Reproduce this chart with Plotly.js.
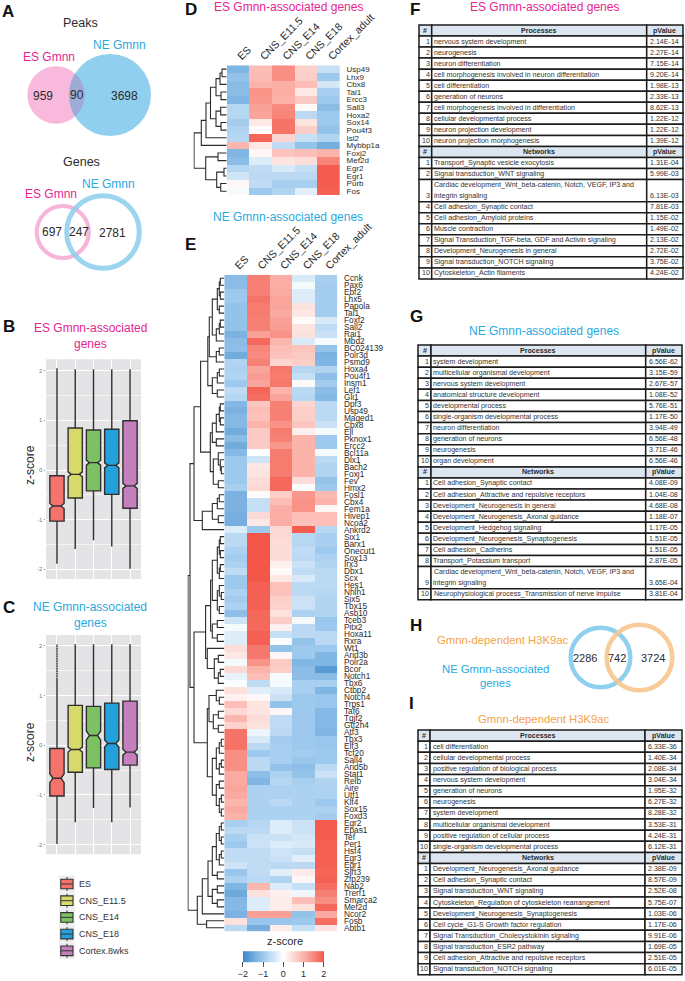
<!DOCTYPE html>
<html><head><meta charset="utf-8">
<script src="https://cdn.plot.ly/plotly-3.0.1.min.js"></script>
<style>html,body{margin:0;padding:0;background:#fff}#c{width:685px;height:981px}</style>
</head><body><div id="c"></div>
<script>
// ---------- data ----------
const stages = ['ES','CNS_E11.5','CNS_E14','CNS_E18','Cortex_adult'];
const boxStages = ['ES','CNS_E11.5','CNS_E14','CNS_E18','Cortex.8wks'];
const boxColors = ['#f4736b','#d7d96a','#7cc262','#22a1dc','#c47fbc'];

const esBoxHigh  = [2.05,2.03,2.03,2.03,2.03];
const esBoxQ3    = [-0.114,0.846,0.805,0.82,0.993];
const esBoxMed   = [-0.725,-0.087,0.148,0.094,-0.32];
const esBoxQ1    = [-1.03,-0.564,-0.42,-0.49,-0.77];
const esBoxLow   = [-1.89,-1.59,-1.416,-1.54,-1.99];
const esBoxNotch = [0.05,0.05,0.05,0.05,0.05];

const neBoxHigh  = [2.03,2.03,2.03,2.03,2.03];
const neBoxQ3    = [-0.067,0.8,0.78,0.846,0.886];
const neBoxMed   = [-0.664,-0.087,0.195,0.034,-0.14];
const neBoxQ1    = [-1.02,-0.544,-0.456,-0.49,-0.4];
const neBoxLow   = [-1.987,-1.55,-1.26,-1.55,-1.25];
const neBoxNotch = [0.09,0.05,0.09,0.07,0.06];
const neEsDottedWhisker = [1.35,2.03];

const esGenes = ['Usp49','Lhx9','Cbx8','Tal1','Ercc3','Sall3','Hoxa2','Sox14','Pou4f3','Isl2','Mybbp1a','Foxj2','Mef2d','Egr2','Egr1','Purb','Fos'];
const esZ = [
[-1.3,.85,1.4,.6,-.6],[-1.1,.9,1.4,.65,-1.0],[-1.2,1.0,1.05,.85,-.45],[-1.2,1.35,1.05,.3,-.9],[-1.3,1.3,1.0,.7,-1.0],
[-.75,1.2,1.45,.05,-1.2],[-.75,1.15,1.5,-.7,-1.0],[-.95,.3,1.7,.35,-1.0],[-.8,.05,1.7,.65,-1.1],[-.75,1.85,.55,-.6,-.8],
[.95,.3,-.65,-1.1,-1.4],[-1.3,.1,.8,.85,1.0],[-1.2,-.35,.35,.45,1.5],[-.75,-.65,-.4,-.6,1.95],[-.5,-.7,-.7,-.7,1.95],
[.1,-.65,-.9,-.9,1.95],[-.1,-1.0,-.8,-.3,1.9]];

const neGenes = ['Ccnk','Pax6','Ebf2','Lhx5','Papola','Tal1','Foxf2','Sall2','Rai1','Mbd2','BC024139','Polr3d','Psmd9','Hoxa4','Pou4f1','Insm1','Lef1','Gli1','Dpf3','Usp49','Maged1','Cbx8','Ell','Pknox1','Ercc2','Bcl11a','Dlx1','Bach2','Foxj1','Fev','Hmx2','Fosl1','Cbx4','Fem1a','Hivep1','Ncoa2','Ankrd2','Six1','Barx1','Onecut1','Sox13','Irx3','Dbx1','Scx','Hes1','Nhlh1','Six5','Tbx15','Asb10','Tceb3','Pitx2','Hoxa11','Rxra','Wt1','Arid3b','Polr2a','Bcor','Notch1','Tbx6','Ctbp2','Notch4','Trps1','Taf6','Tgif2','Gtf2h4','Atf3','Tbx3','Elf3','Tcf20','Sall4','Arid5b','Stat1','Relb','Aire','Utf1','Klf4','Sox15','Foxd3','Egr2','Epas1','Tef','Per1','Hsf4','Egr3','Egr1','Sirt3','Zfp239','Nab2','Trerf1','Smarca2','Mef2d','Ncor2','Fosb','Abtb1'];
const neZ = [
[-1.2,1.55,1.05,-.4,-.9],[-1.2,1.55,1.05,-.1,-.95],[-1.0,1.55,1.1,-.35,-.95],[-1.0,1.7,1.15,-.35,-.95],[-1.1,1.6,1.15,.4,-.95],
[-1.1,1.6,1.1,.3,-.95],[-1.1,1.55,1.2,.05,-.4],[-1.1,1.55,1.25,.35,-.65],[-1.35,1.2,1.35,.4,-.55],[-1.2,1.8,.95,-.4,-.1],
[-1.15,1.5,.85,.8,-1.1],[-1.45,1.45,.8,.7,-1.35],[-.8,1.55,.55,.65,-1.3],[-.85,1.15,1.65,-.75,-.8],[-.8,1.25,1.6,-.6,-1.15],
[-1.0,1.15,1.65,.05,-.95],[-.65,1.85,1.0,-.7,-1.2],[-.75,1.75,1.15,-.75,-1.25],[-1.25,.75,1.55,.55,-.7],[-1.35,.85,1.55,.65,-.7],
[-1.25,.8,1.55,.65,-.7],[-1.25,1.0,1.35,.75,-.55],[-1.45,.7,1.6,.2,-.1],[-1.2,.7,1.55,1.0,-1.0],[-1.45,.7,1.3,1.0,-1.0],
[-1.25,0,1.6,1.0,-.1],[-1.0,-.5,1.6,1.0,-.7],[-1.0,.3,1.6,1.0,-.8],[-1.0,.35,1.6,1.0,-.8],[-1.0,.45,1.8,.45,-1.1],
[-.9,.5,1.8,-.05,-1.0],[-1.35,.05,.65,1.3,.9],[-1.35,-.6,.85,1.35,1.0],[-1.35,-.6,1.05,1.35,.1],[-1.4,.5,1.05,.85,.85],
[-1.4,.3,1.05,.8,.85],[-.35,-1.0,.5,1.95,-.75],[-.7,2,.5,-.75,-.9],[-.7,2,.45,-.75,-.9],[-.85,2,.45,-.65,-1.0],
[-.95,2,.45,-.7,-.85],[-.85,2,.2,-.55,-.8],[-.65,2,.05,-.65,-.7],[-1.0,2,.3,-.4,-.7],[-1.0,1.9,.8,-.7,-.7],
[-.85,1.9,.8,-.7,-.75],[-.95,1.9,.65,-.55,-.8],[-.85,1.9,.6,-.55,-.8],[-1.15,1.8,.4,-.85,-.8],[-.5,1.8,.65,-.1,-1.05],
[-.1,1.8,.2,-.7,-1.0],[-.35,1.9,-.6,-.7,-.7],[-.35,1.9,-.05,-1.1,-.7],[.45,1.65,-1.1,-1.0,-1.0],[.3,1.65,.1,-1.0,-1.3],
[-.1,1.35,.7,-1.3,-1.3],[.5,1.0,.65,-1.2,-1.7],[-.25,.85,-.1,-1.2,-1.2],[-.05,-.65,-.1,-.9,-.9],[.4,-.3,-.4,-.9,-1.3],
[.2,.1,-.55,-1.0,-1.05],[.85,.35,-1.1,-1.0,-1.05],[.5,.35,.1,-1.0,-1.25],[.95,.45,-.65,-1.0,-1.25],[.6,.4,-.65,-1.0,-1.25],
[1.7,-.2,-.7,-1.0,-1.3],[1.7,-.4,-.95,-1,-1.05],[1.7,-.7,-.9,-1,-1.05],[1.4,-1.0,-.9,-.95,-1.0],[1.4,-.7,-.9,-1.05,-1.0],
[1.4,-.7,-1.1,-1.15,-.7],[1.1,-1.15,-.85,-1.1,-.55],[1.1,-1.3,-.75,-.9,-.8],[1.15,-.85,-.85,-.85,-.85],[1.1,-.85,-.85,-.85,-.85],
[.95,-.85,-.7,-.85,-1.0],[1.1,-.85,-.85,-.85,-.85],[1.0,-.85,-.85,-.85,-.95],[-.9,-.75,-.35,-.55,1.95],[-.7,-.7,-.35,-.55,1.95],
[-.9,-.55,-.55,-.45,1.95],[-1.0,-.55,-.35,-.4,1.9],[-.65,-.65,-.5,-.6,1.9],[-.65,-.65,-.55,-.3,1.9],[-.5,-.65,-.7,-.7,1.9],
[-1.05,-.65,-.3,.25,1.85],[-.85,-.7,-.8,.1,1.9],[-1.3,.95,-.35,-.6,1.75],[-1.5,.4,.2,-.15,1.55],[-1.25,-.35,.25,.85,1.4],
[-1.25,-.35,.25,.4,1.8],[-1.35,1.2,1.2,-1.1,1.1],[.4,-1.05,-1.05,-1.0,1.75],[-.7,-1.4,.25,-.6,.35]];

// dendrograms: [merge distance, child, child]; a bare number is a row of the heat map
const esTree = [32.7,
  [25.4,[20.7,[16.2,[10.7,[6.7,[4.7,0,1],2],[5.7,3,4]],[10.7,[6,5,6],[5.7,7,8]]],9],10],
  [21,[8.7,11,12],[10,[2.7,13,14],[6,15,16]]]];
const neTree = [36.3,
 [34.3,
  [30.3,
   [23.7,
    [16.5,
     [15,[12,[7,[5,[4,0,1],[4,2,3]],[5,4,5]],[8,[5,[4,6,7],8],9]],[8,[5,10,11],12]],
     [12,[7,[5,13,14],15],[7,16,17]]],
    [14,[12,[8,[5,[4,18,19],[4,20,21]],22],[8,23,24]],[11,[6,25,[4,26,[3,27,28]]],[6,29,30]]]],
   [22,[12,[7,[5,31,32],33],[6,34,35]],36]],
  [30.3,
   [18.7,
    [13.7,[12,[7,[5,[4,37,38],[4,39,40]],[5,[4,41,42],43]],[7,[5,44,[3,45,46]],[5,47,48]]],[12,[7,49,50],[7,51,52]]],
    [17,53,[10,[6,54,55],[6,[4,56,57],58]]]],
   [17,
    [15.3,[8,59,[5,60,61]],[11,[6,62,63],[6,64,65]]],
    [12,[8,[5,[3,66,67],68],[5,[3,69,70],71]],[8,[5,72,73],[5,[3,74,75],[3,76,77]]]]]]],
 [27,
  [22,[16.3,[12,[8,[5,[3,78,79],[3,80,81]],[5,[3,82,83],84]],[7,85,86]],[12,[7,87,88],[7,89,90]]],91],
  [17.7,92,93]]];

const esProcesses = ['nervous system development','neurogenesis','neuron differentiation','cell morphogenesis involved in neuron differentiation','cell differentiation','generation of neurons','cell morphogenesis involved in differentiation','cellular developmental process','neuron projection development','neuron projection morphogenesis'];
const esProcessP = ['2.14E-14','2.27E-14','7.15E-14','9.20E-14','1.98E-13','2.33E-13','8.62E-13','1.22E-12','1.22E-12','1.39E-12'];
const esNetworks = ['Transport_Synaptic vesicle exocytosis','Signal transduction_WNT signaling','Cardiac development_Wnt_beta-catenin, Notch, VEGF, IP3 and\nintegrin signaling','Cell adhesion_Synaptic contact','Cell adhesion_Amyloid proteins','Muscle contraction','Signal Transduction_TGF-beta, GDF and Activin signaling','Development_Neurogenesis in general','Signal transduction_NOTCH signaling','Cytoskeleton_Actin filaments'];
const esNetworkP = ['1.31E-04','5.99E-03','6.13E-03','7.81E-03','1.15E-02','1.49E-02','2.13E-02','2.72E-02','3.75E-02','4.24E-02'];

const neProcesses = ['system development','multicellular organismal development','nervous system development','anatomical structure development','developmental process','single-organism developmental process','neuron differentiation','generation of neurons','neurogenesis','organ development'];
const neProcessP = ['6.56E-62','3.15E-59','2.67E-57','1.08E-52','5.76E-51','1.17E-50','3.94E-49','6.56E-48','3.71E-46','6.56E-46'];
const neNetworks = ['Cell adhesion_Synaptic contact','Cell adhesion_Attractive and repulsive receptors','Development_Neurogenesis in general','Development_Neurogenesis_Axonal guidance','Development_Hedgehog signaling','Development_Neurogenesis_Synaptogenesis','Cell adhesion_Cadherins','Transport_Potassium transport','Cardiac development_Wnt_beta-catenin, Notch, VEGF, IP3 and\nintegrin signaling','Neurophysiological process_Transmission of nerve impulse'];
const neNetworkP = ['4.08E-09','1.04E-08','4.68E-08','1.18E-07','1.17E-05','1.51E-05','1.51E-05','2.87E-05','3.65E-04','3.81E-04'];

const h3Processes = ['cell differentiation','cellular developmental process','positive regulation of biological process','nervous system development','generation of neurons','neurogenesis','system development','multicellular organismal development','positive regulation of cellular process','single-organism developmental process'];
const h3ProcessP = ['6.33E-36','1.40E-34','2.08E-34','3.04E-34','1.95E-32','6.27E-32','8.28E-32','3.53E-31','4.24E-31','6.12E-31'];
const h3Networks = ['Development_Neurogenesis_Axonal guidance','Cell adhesion_Synaptic contact','Signal transduction_WNT signaling','Cytoskeleton_Regulation of cytoskeleton rearrangement','Development_Neurogenesis_Synaptogenesis','Cell cycle_G1-S Growth factor regulation','Signal Transduction_Cholecystokinin signaling','Signal transduction_ESR2 pathway','Cell adhesion_Attractive and repulsive receptors','Signal transduction_NOTCH signaling'];
const h3NetworkP = ['2.38E-09','8.57E-09','2.52E-08','5.75E-07','1.03E-06','1.17E-06','9.91E-06','1.69E-05','2.51E-05','6.01E-05'];

const peakCounts = ['959','90','3698'];
const geneCounts = ['697','247','2781'];
const h3Counts = ['2286','742','3724'];

// ---------- helpers ----------
const W=685,H=981;
const FONT='"Liberation Sans", Arial, sans-serif';
const PINK='#e6248f',BLUE='#2aa9e0',ORANGE='#f5a24a',DARK='#2b2b2b';
const px=x=>x/W, py=y=>1-y/H;
const dx=(a,b)=>[a/W,b/W], dy=(t,b)=>[1-b/H,1-t/H];
const annotations=[],shapes=[],traces=[];
function note(text,x,y,o={}){
  annotations.push({text,x:px(x),y:py(y),xref:'paper',yref:'paper',showarrow:false,
    xanchor:o.anchor||'center',yanchor:'middle',borderpad:0,
    font:{family:FONT,size:o.size||12,color:o.color||DARK},textangle:o.angle||0});
}
function rect(x0,y0,x1,y1,fill,lineColor,lineW){
  shapes.push({type:'rect',xref:'paper',yref:'paper',x0:px(x0),x1:px(x1),y0:py(y0),y1:py(y1),
    fillcolor:fill,line:{color:lineColor||fill,width:lineW===undefined?0:lineW},layer:'above'});
}
function seg(x0,y0,x1,y1,color,w){
  shapes.push({type:'line',xref:'paper',yref:'paper',x0:px(x0),x1:px(x1),y0:py(y0),y1:py(y1),line:{color,width:w},layer:'above'});
}
function disc(cx,cy,r,fill){
  shapes.push({type:'circle',xref:'paper',yref:'paper',x0:px(cx-r),x1:px(cx+r),y0:py(cy-r),y1:py(cy+r),fillcolor:fill,line:{width:0},layer:'above'});
}
function ring(cx,cy,r,color,w,op){
  shapes.push({type:'circle',xref:'paper',yref:'paper',x0:px(cx-r),x1:px(cx+r),y0:py(cy-r),y1:py(cy+r),fillcolor:'rgba(0,0,0,0)',line:{color,width:w},opacity:op||1,layer:'above'});
}
function lens(c1,c2,fill){
  const d=c2[0]-c1[0],a=(d*d+c1[2]*c1[2]-c2[2]*c2[2])/(2*d),h=Math.sqrt(c1[2]*c1[2]-a*a);
  const t1=Math.atan2(h,a),t2=Math.atan2(h,a-d);
  let p=[];
  for(let i=0;i<=30;i++){const t=-t1+2*t1*i/30;p.push([c1[0]+c1[2]*Math.cos(t),c1[1]+c1[2]*Math.sin(t)]);}
  for(let i=0;i<=30;i++){const t=t2+(2*Math.PI-2*t2)*i/30;p.push([c2[0]+c2[2]*Math.cos(t),c2[1]+c2[2]*Math.sin(t)]);}
  const path=p.map((q,i)=>(i?'L':'M')+px(q[0]).toFixed(5)+','+py(q[1]).toFixed(5)).join(' ')+' Z';
  shapes.push({type:'path',xref:'paper',yref:'paper',path,fillcolor:fill,line:{width:0},layer:'above'});
}
function table(t){
  const [a,b,c,d]=t.cols; let y=t.top; const p=t.pitch, FS=7.1, LC='#1c1c1c', LW=1.5;
  const row=(cellsFill,h)=>{rect(a,y,b,y+h,cellsFill,LC,LW);rect(b,y,c,y+h,cellsFill,LC,LW);rect(c,y,d,y+h,cellsFill,LC,LW);};
  t.sections.forEach(s=>{
    row('#dce6f1',p);
    note('<b>#</b>',(a+b)/2,y+p/2,{size:FS});
    note('<b>'+s.head+'</b>',(b+c)/2,y+p/2,{size:FS});
    note('<b>pValue</b>',(c+d)/2,y+p/2,{size:FS});
    y+=p;
    s.names.forEach((n,i)=>{
      const lines=n.split('\n'),h=p*lines.length;
      row('#ffffff',h);
      lines.forEach((l,j)=>note(l,b+1.5,y+p*(j+.5),{anchor:'left',size:FS,color:'#333'}));
      note(String(i+1),b-1.2,y+h-p/2,{anchor:'right',size:FS,color:'#333'});
      note(s.p[i],c+2,y+h-p/2,{anchor:'left',size:FS,color:'#333'});
      y+=h;
    });
  });
}
function treeLines(tree){
  const xs=[],ys=[];
  (function walk(n){
    if(typeof n==='number')return{y:n,h:0};
    const A=walk(n[1]),B=walk(n[2]);
    xs.push(A.h,n[0],n[0],B.h,null);ys.push(A.y,A.y,B.y,B.y,null);
    return{y:(A.y+B.y)/2,h:n[0]};
  })(tree);
  return{xs,ys};
}
const scale=[[0,'#3b88c8'],[0.25,'#9ec9ee'],[0.5,'#ffffff'],[0.75,'#fbb3aa'],[1,'#f4574a']];
const axisHidden={showgrid:false,zeroline:false,showticklabels:false,ticks:'',showline:false};
const layout={width:W,height:H,margin:{l:0,r:0,t:0,b:0,autoexpand:false},paper_bgcolor:'#fff',plot_bgcolor:'rgba(0,0,0,0)',
  showlegend:false,boxmode:'overlay',font:{family:FONT,color:DARK},annotations,shapes};

// ---------- heat maps + dendrograms ----------
function heat(n,genes,z,box,labelSize,cb){
  const ids=genes.map((_,i)=>i);
  const tr={type:'heatmap',z,x:[0,1,2,3,4],y:ids,xaxis:'x'+(n==1?'':n),yaxis:'y'+(n==1?'':n),
    colorscale:scale,zmin:-2,zmax:2,showscale:!!cb,hoverinfo:'skip'};
  if(cb)tr.colorbar=cb;
  traces.push(tr);
  layout['xaxis'+(n==1?'':n)]={domain:dx(box.l,box.r),range:[-.5,4.5],side:'top',anchor:'y'+(n==1?'':n),
    tickmode:'array',tickvals:[0,1,2,3,4],ticktext:stages,tickangle:-45,ticks:'',
    tickfont:{family:FONT,size:10.6,color:DARK},showgrid:false,zeroline:false,showline:false};
  layout['yaxis'+(n==1?'':n)]={domain:dy(box.t,box.b),range:[genes.length-.5,-.5],side:'right',anchor:'x'+(n==1?'':n),
    tickmode:'array',tickvals:ids,ticktext:genes,ticks:'outside',ticklen:4,tickcolor:'rgba(0,0,0,0)',
    tickfont:{family:FONT,size:labelSize,color:DARK},showgrid:false,zeroline:false,showline:false};
}
function dendro(n,tree,genes,box,w){
  const L=treeLines(tree),maxH=tree[0]+.5;
  traces.push({type:'scatter',mode:'lines',x:L.xs,y:L.ys,xaxis:'x'+n,yaxis:'y'+n,line:{color:'#2b2b2b',width:w},hoverinfo:'skip',connectgaps:false});
  layout['xaxis'+n]=Object.assign({domain:dx(box.l-maxH,box.l),range:[maxH,0],anchor:'y'+n},axisHidden);
  layout['yaxis'+n]=Object.assign({domain:dy(box.t,box.b),range:[genes.length-.5,-.5],anchor:'x'+n},axisHidden);
}
const boxD={l:226.7,r:340,t:65.3,b:195}, boxE={l:224.3,r:337.3,t:274.7,b:931.3};
heat(1,esGenes,esZ,boxD,8);
heat(2,neGenes,neZ,boxE,8.3,{orientation:'h',x:283.3/W,xanchor:'center',y:py(980),yanchor:'bottom',yref:'paper',
  len:80.5,lenmode:'pixels',thickness:11,thicknessmode:'pixels',outlinewidth:0,xpad:0,ypad:0,
  tickmode:'array',tickvals:[-2,-1,0,1,2],ticktext:['\u22122','\u22121','0','1','2'],ticks:'outside',ticklen:5,tickcolor:'#222',tickwidth:.8,
  tickfont:{family:FONT,size:9,color:DARK},title:{text:'',side:'top'}});
dendro(3,esTree,esGenes,boxD,1.1);
dendro(4,neTree,neGenes,boxE,1.1);
note('z-score',285,940.7,{size:11});

// ---------- box plots ----------
function boxes(n,hi,q3,med,q1,lo,notch,panel,range){
  boxStages.forEach((s,i)=>traces.push({type:'box',x:[s],q1:[q1[i]],median:[med[i]],q3:[q3[i]],lowerfence:[lo[i]],upperfence:[hi[i]],
    notched:true,notchspan:[notch[i]],notchwidth:.22,boxpoints:false,whiskerwidth:0,width:.78,
    fillcolor:boxColors[i],line:{color:'#2f2f2f',width:1.4},xaxis:'x'+n,yaxis:'y'+n,hoverinfo:'skip'}));
  layout['xaxis'+n]={domain:dx(panel.l,panel.r),type:'category',categoryorder:'array',categoryarray:boxStages,range:[-.6,4.6],anchor:'y'+n,
    showticklabels:false,ticks:'',showgrid:true,gridcolor:'#fff',gridwidth:1,zeroline:false,showline:false};
  layout['yaxis'+n]={domain:dy(panel.t,panel.b),range,anchor:'x'+n,tickmode:'array',tickvals:[-2,-1,0,1,2],ticktext:['-2','-1','0','1','2'],
    ticks:'outside',ticklen:1.5,tickcolor:'#888',tickfont:{family:FONT,size:6,color:'#777'},showgrid:true,gridcolor:'#fff',gridwidth:1,zeroline:false,showline:false,
    minor:{dtick:.5,showgrid:true,gridcolor:'#fff',gridwidth:.6,ticks:''}};
  shapes.push({type:'rect',xref:'x'+n+' domain',yref:'y'+n+' domain',x0:0,x1:1,y0:0,y1:1,fillcolor:'#e4e4e6',line:{width:0},layer:'below'});
}
boxes(5,esBoxHigh,esBoxQ3,esBoxMed,esBoxQ1,esBoxLow,esBoxNotch,{l:46,r:141,t:359.3,b:579},[-2.195,2.23]);
boxes(6,neBoxHigh,neBoxQ3,neBoxMed,neBoxQ1,neBoxLow,neBoxNotch,{l:46,r:141,t:635,b:854.3},[-2.193,2.215]);
shapes.push({type:'line',xref:'x6',yref:'y6',x0:'ES',x1:'ES',y0:neEsDottedWhisker[0],y1:neEsDottedWhisker[1],line:{color:'#e4e4e6',width:1.1,dash:'1px,1.5px'},layer:'above'});
note('z-score',30,465,{size:12,angle:-90});
note('z-score',30,742,{size:12,angle:-90});

// legend
boxStages.forEach((s,i)=>{
  const y=884+16.7*i;
  rect(59,y-8.35,74.7,y+8.35,'#eeeeee');
  seg(67,y-7,67,y+7,'#333',1);
  rect(60.8,y-4.8,73,y+4.8,boxColors[i],'#333',1.1);
  seg(60.8,y,73,y,'#333',1);
  note(s,77.7,y,{anchor:'left',size:9,color:'#333'});
});

// ---------- venns ----------
const peakES=[56,95,28.7],peakNE=[110,95,41];
disc(peakES[0],peakES[1],peakES[2],'#f9b9dc');
disc(peakNE[0],peakNE[1],peakNE[2],'#90d0ee');
lens(peakES,peakNE,'#9dacd6');
note('Peaks',80,23,{size:12.5});
note('ES Gmnn',49,57,{size:12,color:PINK});
note('NE Gmnn',119.5,44.5,{size:12,color:BLUE});
note(peakCounts[0],42.5,95.5);note(peakCounts[1],76.5,95);note(peakCounts[2],124,95.5);

ring(62.8,232,26,'#f7b5da',4.2);
ring(103,232,36.3,'#8fd0ef',5,.88);
note('Genes',81,161.5,{size:12.5});
note('ES Gmnn',51,193.5,{size:12,color:PINK});
note('NE Gmnn',108.5,183.5,{size:12,color:BLUE});
note(geneCounts[0],51.5,232.5);note(geneCounts[1],79,232);note(geneCounts[2],113,233);

ring(600.5,657.5,29.8,'#8fd0ef',4.5);
ring(639.5,657.5,32.8,'#f8c68c',4.6,.88);
note(h3Counts[0],585,658,{size:11});note(h3Counts[1],617,658,{size:11});note(h3Counts[2],653,658,{size:11});
note('Gmnn-dependent H3K9ac',503,640,{size:11.3,color:ORANGE});
note('NE Gmnn-associated',495,669,{size:11.3,color:BLUE});
note('genes',495,683,{size:11.3,color:BLUE});

// ---------- titles / letters ----------
[['A',8,11],['D',191,10],['E',190,245],['B',9,326],['C',9,607],['F',415,10],['G',416,316],['H',416,625],['I',411,703]]
  .forEach(l=>note('<b>'+l[0]+'</b>',l[1],l[2],{size:17,color:'#111'}));
note('ES Gmnn-associated',90,328,{size:12,color:PINK});note('genes',90,344,{size:12,color:PINK});
note('NE Gmnn-associated',90,607,{size:12,color:BLUE});note('genes',90,623,{size:12,color:BLUE});
note('ES Gmnn-associated genes',288,7,{size:12,color:PINK});
note('NE Gmnn-associated genes',288,217,{size:12,color:BLUE});
note('ES Gmnn-associated genes',544,7,{size:12,color:PINK});
note('NE Gmnn-associated genes',544,331,{size:12,color:BLUE});
note('Gmnn-dependent H3K9ac',544,719,{size:11.3,color:ORANGE});

// ---------- tables ----------
table({cols:[419,431.7,646.7,683],top:25,pitch:11.04,sections:[
  {head:'Processes',names:esProcesses,p:esProcessP},{head:'Networks',names:esNetworks,p:esNetworkP}]});
table({cols:[418,431,645.7,682],top:345,pitch:11.08,sections:[
  {head:'Processes',names:neProcesses,p:neProcessP},{head:'Networks',names:neNetworks,p:neNetworkP}]});
table({cols:[418,430,645,682],top:730,pitch:11.13,sections:[
  {head:'Processes',names:h3Processes,p:h3ProcessP},{head:'Networks',names:h3Networks,p:h3NetworkP}]});

Plotly.newPlot('c',traces,layout,{staticPlot:true,displayModeBar:false});
</script></body></html>
